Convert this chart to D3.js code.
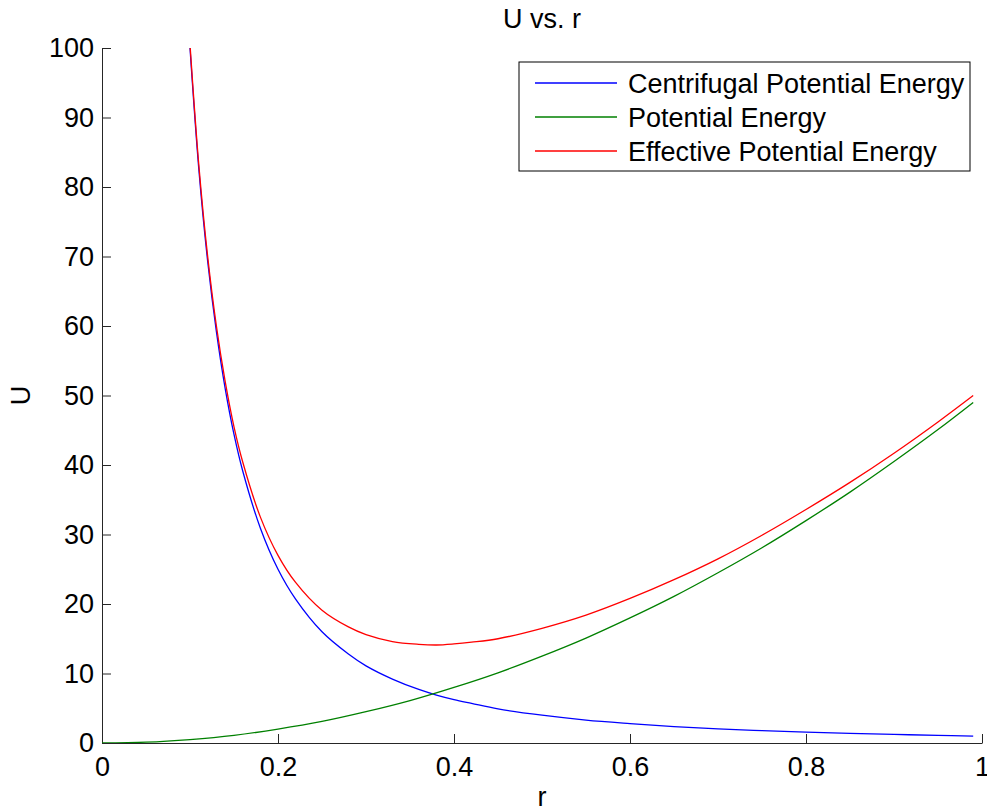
<!DOCTYPE html>
<html lang="en">

<head>
  <meta charset="UTF-8">
  <title>U vs. r</title>
  <script src="https://d3js.org/d3.v7.min.js"></script>
  <style>
    body {
      margin: 0;
      padding: 0;
      background: #fff;
      font-family: "Liberation Sans", Arial, sans-serif;
    }

    .axis path,
    .axis line {
      stroke: #262626;
      stroke-width: 1;
    }

    .axis text {
      font-size: 27px;
      fill: #000;
      font-family: "Liberation Sans", Arial, sans-serif;
    }

    .label {
      font-size: 27px;
      fill: #000;
    }

    .curve {
      fill: none;
      stroke-width: 1.3;
    }
  </style>
</head>

<body>
  <div id="chart"></div>
  <script>
    // r samples for the curves that start at r = 0.1
    const rInner = [0.10, 0.11, 0.12, 0.13, 0.14, 0.15, 0.16, 0.18, 0.20, 0.22, 0.25, 0.28, 0.30, 0.33,
      0.36, 0.38, 0.40, 0.42, 0.45, 0.50, 0.55, 0.60, 0.65, 0.70, 0.75, 0.80, 0.85, 0.90, 0.95, 0.99];
    const centrifugal = [100, 82.6, 69.4, 59.2, 51.0, 44.4, 39.1, 30.9, 25.0, 20.7, 16.0, 12.8, 11.1, 9.2,
      7.7, 6.9, 6.25, 5.7, 4.9, 4.0, 3.3, 2.8, 2.37, 2.04, 1.78, 1.56, 1.38, 1.23, 1.1, 1.0];
    const effective = [100.5, 83.2, 70.1, 60.0, 52.0, 45.5, 40.4, 32.5, 27.0, 23.1, 19.1, 16.7, 15.6, 14.6,
      14.2, 14.1, 14.25, 14.5, 15.0, 16.5, 18.4, 20.8, 23.5, 26.5, 29.9, 33.6, 37.5, 41.7, 46.2, 50.0];

    // potential energy starts at r = 0
    const rPot = [0, 0.05, 0.10, 0.15, 0.20, 0.25, 0.30, 0.35, 0.40, 0.45, 0.50, 0.55, 0.60, 0.65,
      0.70, 0.75, 0.80, 0.85, 0.90, 0.95, 0.99];
    const potential = [0, 0.12, 0.5, 1.1, 2.0, 3.1, 4.5, 6.1, 8.0, 10.1, 12.5, 15.1, 18.0, 21.1,
      24.5, 28.1, 32.0, 36.1, 40.5, 45.1, 49.0];

    const xTicks = [0, 0.2, 0.4, 0.6, 0.8, 1];
    const yTicks = [0, 10, 20, 30, 40, 50, 60, 70, 80, 90, 100];

    const seriesNames = ["Centrifugal Potential Energy", "Potential Energy", "Effective Potential Energy"];
    const seriesColors = ["#0000ff", "#008000", "#ff0000"];

    const series = [
      { name: seriesNames[0], color: seriesColors[0], pts: rInner.map((r, i) => [r, centrifugal[i]]) },
      { name: seriesNames[1], color: seriesColors[1], pts: rPot.map((r, i) => [r, potential[i]]) },
      { name: seriesNames[2], color: seriesColors[2], pts: rInner.map((r, i) => [r, effective[i]]) }
    ];

    const W = 987, H = 812;
    const margin = { top: 48, right: 5, bottom: 69, left: 102 },
      width = W - margin.left - margin.right,
      height = H - margin.top - margin.bottom;

    const svg = d3.select("#chart")
      .append("svg")
      .attr("width", W)
      .attr("height", H);

    const g = svg.append("g")
      .attr("transform", `translate(${margin.left}, ${margin.top})`);

    const x = d3.scaleLinear().domain([0, 1]).range([0, width]);
    const y = d3.scaleLinear().domain([0, 100]).range([height, 0]);

    svg.append("defs").append("clipPath")
      .attr("id", "plot-clip")
      .append("rect")
      .attr("width", width)
      .attr("height", height);

    // ticks point inward, like MATLAB
    g.append("g")
      .attr("class", "axis")
      .attr("transform", `translate(0, ${height})`)
      .call(d3.axisBottom(x).tickValues(xTicks).tickFormat(d3.format("")).tickSizeInner(-9).tickSizeOuter(0).tickPadding(14))
      .call(a => a.selectAll("text").attr("dy", "0.71em"));

    g.append("g")
      .attr("class", "axis")
      .call(d3.axisLeft(y).tickValues(yTicks).tickSizeInner(-9).tickSizeOuter(0).tickPadding(8));

    const line = d3.line()
      .x(d => x(d[0]))
      .y(d => y(d[1]))
      .curve(d3.curveCatmullRom);

    g.append("g")
      .attr("clip-path", "url(#plot-clip)")
      .selectAll("path.curve")
      .data(series)
      .enter()
      .append("path")
      .attr("class", "curve")
      .attr("stroke", d => d.color)
      .attr("d", d => line(d.pts));

    // title and axis labels
    svg.append("text")
      .attr("class", "label")
      .attr("x", margin.left + width / 2)
      .attr("y", 28)
      .attr("text-anchor", "middle")
      .text("U vs. r");

    svg.append("text")
      .attr("class", "label")
      .attr("x", margin.left + width / 2)
      .attr("y", 806)
      .attr("text-anchor", "middle")
      .text("r");

    svg.append("text")
      .attr("class", "label")
      .attr("transform", `translate(30, ${margin.top + height / 2}) rotate(-90)`)
      .attr("text-anchor", "middle")
      .text("U");

    // legend
    const legend = svg.append("g").attr("transform", "translate(519, 62)");
    legend.append("rect")
      .attr("width", 451)
      .attr("height", 109)
      .attr("fill", "#fff")
      .attr("stroke", "#000")
      .attr("stroke-width", 1);

    const items = legend.selectAll("g.item")
      .data(series)
      .enter()
      .append("g")
      .attr("class", "item")
      .attr("transform", (d, i) => `translate(0, ${21 + i * 34})`);

    items.append("line")
      .attr("x1", 16)
      .attr("x2", 98)
      .attr("stroke", d => d.color)
      .attr("stroke-width", 1.3);

    items.append("text")
      .attr("class", "label")
      .attr("x", 109)
      .attr("y", 10)
      .text(d => d.name);
  </script>
</body>

</html>
